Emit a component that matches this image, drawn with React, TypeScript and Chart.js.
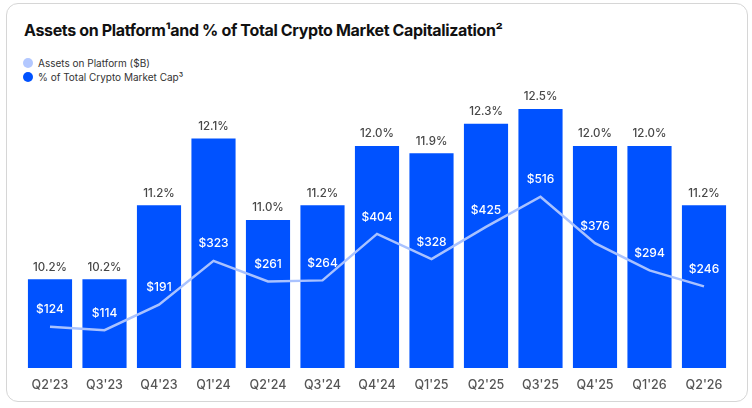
import React, { useEffect, useRef } from "react";
import { Chart, registerables } from "chart.js";

Chart.register(...registerables);

const categories = ["Q2'23", "Q3'23", "Q4'23", "Q1'24", "Q2'24", "Q3'24", "Q4'24", "Q1'25", "Q2'25", "Q3'25", "Q4'25", "Q1'26", "Q2'26"];
const pctOfMarketCap = [10.2, 10.2, 11.2, 12.1, 11.0, 11.2, 12.0, 11.9, 12.3, 12.5, 12.0, 12.0, 11.2];
const assetsOnPlatform = [124, 114, 191, 323, 261, 264, 404, 328, 425, 516, 376, 294, 246];

const BAR_BLUE = "#0052FF";
const LINE_BLUE = "#A9C2FF";
const FONT = "Inter, 'Noto Sans', sans-serif";

const labelPlugin = {
  id: "valueLabels",
  afterDatasetsDraw(chart: any) {
    const ctx = chart.ctx;
    ctx.save();
    ctx.textAlign = "center";
    ctx.textBaseline = "middle";
    const barMeta = chart.getDatasetMeta(0);
    ctx.font = `500 11.5px ${FONT}`;
    ctx.fillStyle = "#474747";
    barMeta.data.forEach((el: any, i: number) => {
      ctx.fillText(pctOfMarketCap[i].toFixed(1) + "%", el.x, el.y - 12);
    });
    const lineMeta = chart.getDatasetMeta(1);
    ctx.font = `500 12px ${FONT}`;
    ctx.fillStyle = "#FFFFFF";
    lineMeta.data.forEach((el: any, i: number) => {
      ctx.fillText("$" + assetsOnPlatform[i], el.x, el.y - 17);
    });
    ctx.restore();
  },
};

export default function App() {
  const canvasRef = useRef<HTMLCanvasElement>(null);

  useEffect(() => {
    if (!canvasRef.current) return;
    const chart = new Chart(canvasRef.current, {
      type: "bar",
      data: {
        labels: categories,
        datasets: [
          {
            type: "bar",
            label: "% of Total Crypto Market Cap",
            data: pctOfMarketCap,
            backgroundColor: BAR_BLUE,
            borderWidth: 0,
            categoryPercentage: 1,
            barPercentage: 0.81,
            yAxisID: "yPct",
            order: 2,
          },
          {
            type: "line",
            label: "Assets on Platform ($B)",
            data: assetsOnPlatform,
            borderColor: LINE_BLUE,
            borderWidth: 2.5,
            pointRadius: 0,
            tension: 0,
            fill: false,
            yAxisID: "yAssets",
            order: 1,
          },
        ],
      },
      options: {
        responsive: false,
        animation: false,
        maintainAspectRatio: false,
        layout: { padding: { left: 22.75, right: 20.75, top: 100, bottom: 13 } },
        plugins: {
          legend: { display: false },
          title: { display: false },
          tooltip: { enabled: false },
        },
        scales: {
          x: {
            grid: { display: false },
            border: { display: false },
            ticks: {
              color: "#555555",
              font: { family: FONT, size: 12.5, weight: "500" as any },
              padding: 2,
              maxRotation: 0,
              autoSkip: false,
            },
          },
          yPct: {
            display: false,
            position: "left",
            min: 9,
            max: 12.62,
          },
          yAssets: {
            display: false,
            position: "right",
            min: 0,
            max: 807.5,
          },
        },
      },
      plugins: [labelPlugin],
    });
    return () => chart.destroy();
  }, []);

  return (
    <div style={{ position: "absolute", left: 0, top: 0, width: 752, height: 408, background: "#fff", fontFamily: FONT }}>
      <div
        style={{
          position: "absolute",
          left: 6,
          top: 3,
          width: 740,
          height: 397,
          border: "1px solid #D6D6D6",
          borderRadius: 12,
        }}
      />
      <div
        style={{
          position: "absolute",
          left: 24,
          top: 20,
          fontSize: 16,
          fontWeight: 700,
          color: "#111111",
          letterSpacing: -0.35,
          whiteSpace: "nowrap",
        }}
      >
        Assets on Platform¹and % of Total Crypto Market Capitalization²
      </div>
      <div style={{ position: "absolute", left: 23, top: 56, fontSize: 10, color: "#333", lineHeight: "14px" }}>
        <div style={{ display: "flex", alignItems: "center" }}>
          <span style={{ display: "inline-block", width: 10, height: 10, borderRadius: 5, background: "#B3C8FF", marginRight: 5 }} />
          Assets on Platform ($B)
        </div>
        <div style={{ display: "flex", alignItems: "center" }}>
          <span style={{ display: "inline-block", width: 10, height: 10, borderRadius: 5, background: BAR_BLUE, marginRight: 5 }} />
          % of Total Crypto Market Cap³
        </div>
      </div>
      <canvas ref={canvasRef} width={752} height={408} style={{ position: "absolute", left: 0, top: 0 }} />
    </div>
  );
}
